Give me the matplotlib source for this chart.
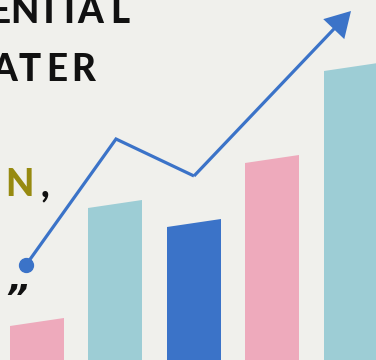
import matplotlib
matplotlib.use("Agg")
import matplotlib.pyplot as plt

# bar data (height of right top corner, px from bottom)
bar_left = [10, 88, 167, 245, 324]
bar_height = [42, 160, 141, 205, 297]
bar_colors = ["#eeaabc", "#9dcdd5", "#3b73c8", "#eeaabc", "#9dcdd5"]
bar_width = 54
slant = 8

# trend line data
line_x = [26, 116, 194, 351]
line_y = [95, 221, 184, 349]

# text fragments
row1 = "ENTIAL"
row1_x = [0, 24, 49, 69, 90, 120]
row2 = "ATER"
row2_x = [4, 30, 57, 83]

bg = "#f0f0ec"
blue = "#3b73c8"

fig = plt.figure(figsize=(3.76, 3.6), dpi=100)
fig.patch.set_facecolor(bg)
ax = fig.add_axes([0, 0, 1, 1])
ax.set_facecolor(bg)
ax.set_xlim(0, 376)
ax.set_ylim(0, 360)
ax.axis("off")

#bars with slanted tops
for x0, h, c in zip(bar_left, bar_height, bar_colors):
    x1 = x0 + bar_width
    ax.fill([x0, x0, x1, x1], [0, h - slant, h, 0], color=c, lw=0, zorder=1)

#line + arrow
ax.plot(line_x[:-1], line_y[:-1], color=blue, lw=2.3, solid_joinstyle="miter",
        solid_capstyle="butt", zorder=3)
ax.plot(line_x[0], line_y[0], "o", color=blue, ms=10, zorder=4)
ax.arrow(line_x[-2], line_y[-2], line_x[-1] - line_x[-2], line_y[-1] - line_y[-2],
         width=3.2, head_width=29, head_length=25, length_includes_head=True,
         color=blue, lw=0, zorder=3)

#text
font = dict(family="Lato", weight="black", fontsize=26.5, ha="center", va="baseline")
for ch, x in zip(row1, row1_x):
    ax.text(x, 360 - 23, ch, color="#111111", **font)
for ch, x in zip(row2, row2_x):
    ax.text(x, 360 - 81, ch, color="#111111", **font)
ax.text(19.5, 360 - 196, "N", color="#978a10", **font)
ax.text(45, 360 - 196, ",", color="#111111", **font)
ax.text(16, 360 - 310, "\u201d", color="#111111", family="DejaVu Sans",
        weight="bold", style="italic", fontsize=26, ha="center", va="baseline")

fig.savefig("out.png", dpi=100, facecolor=bg)
